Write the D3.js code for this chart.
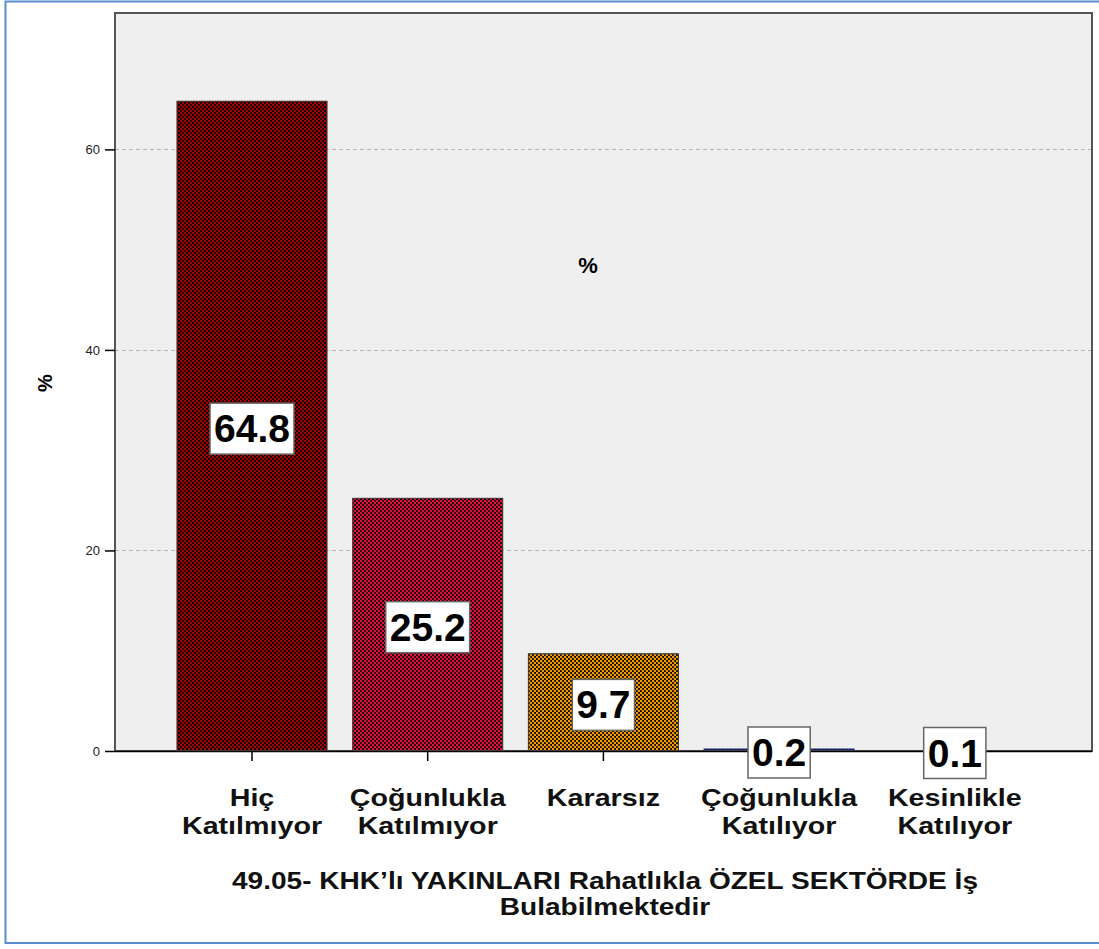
<!DOCTYPE html>
<html><head><meta charset="utf-8">
<script src="https://cdn.jsdelivr.net/npm/d3@7"></script>
<style>body{margin:0;background:#fff}svg{display:block}text{font-family:"Liberation Sans",Arial,sans-serif}</style>
</head><body>
<script>
const categories = [["Hiç","Katılmıyor"],["Çoğunlukla","Katılmıyor"],["Kararsız"],["Çoğunlukla","Katılıyor"],["Kesinlikle","Katılıyor"]];
const values = [64.8, 25.2, 9.7, 0.2, 0.1];
const labels = ["64.8","25.2","9.7","0.2","0.1"];
const colors = ["#a30000","#e5103f","#f59a00","#1f2a80","#2c2c2c"];
const yTicks = [0, 20, 40, 60];
const xTitle = ["49.05- KHK’lı YAKINLARI Rahatlıkla ÖZEL SEKTÖRDE İş","Bulabilmektedir"];

const W = 1099, H = 949;
const svg = d3.select("body").append("svg").attr("width", W).attr("height", H);
const defs = svg.append("defs");
colors.forEach((c, i) => {
  const p = defs.append("pattern").attr("id", "pat" + i).attr("patternUnits", "userSpaceOnUse")
    .attr("width", 4).attr("height", 4);
  p.append("rect").attr("width", 4).attr("height", 4).attr("fill", "#000");
  p.append("circle").attr("cx", 1).attr("cy", 1).attr("r", 1.35).attr("fill", c);
  p.append("circle").attr("cx", 3).attr("cy", 3).attr("r", 1.35).attr("fill", c);
});

// outer frame
svg.append("rect").attr("x", 5.5).attr("y", 1.5).attr("width", 1100).attr("height", 941.5)
  .attr("fill", "none").attr("stroke", "#5b8bd0").attr("stroke-width", 2);

const pl = 115, pt = 13, pr = 1092, pb = 751;
const y = d3.scaleLinear().domain([0, 73.6]).range([pb, pt]);
const x = d3.scaleBand().domain(d3.range(values.length)).range([164.15, 1042.65]).paddingInner(0.146).paddingOuter(0.073);

svg.append("rect").attr("x", pl).attr("y", pt).attr("width", pr - pl).attr("height", pb - pt)
  .attr("fill", "#efefef");

// grid
svg.append("g").selectAll("line").data(yTicks.filter(d => d > 0)).join("line")
  .attr("x1", pl).attr("x2", pr).attr("y1", d => Math.round(y(d)) + 0.5).attr("y2", d => Math.round(y(d)) + 0.5)
  .attr("stroke", "#b4b4b4").attr("stroke-dasharray", "4,3");

// bars
svg.append("g").selectAll("rect").data(values).join("rect")
  .attr("x", (d, i) => x(i)).attr("width", x.bandwidth())
  .attr("y", d => y(d)).attr("height", d => pb - y(d))
  .attr("fill", (d, i) => "url(#pat" + i + ")")
  .attr("stroke", (d, i) => i === 3 ? colors[i] : (i === 4 ? "none" : "#333")).attr("stroke-width", 1);

// plot border
svg.append("rect").attr("x", pl).attr("y", pt).attr("width", pr - pl).attr("height", pb - pt)
  .attr("fill", "none").attr("stroke", "#555").attr("stroke-width", 2);

// y axis
const ya = svg.append("g").attr("transform", `translate(${pl},0)`)
  .call(d3.axisLeft(y).tickValues(yTicks).tickSize(10).tickFormat(d3.format("d")));
ya.select(".domain").remove();
ya.selectAll(".tick line").attr("stroke", "#000").attr("stroke-width", 1.5);
ya.selectAll(".tick text").attr("font-size", 13).attr("fill", "#222").attr("font-family", "Liberation Sans, Arial").attr("dx", -2);

// x axis
const xa = svg.append("g").attr("transform", `translate(0,${pb})`)
  .call(d3.axisBottom(x).tickSize(10).tickFormat(""));
xa.select(".domain").remove();
xa.selectAll(".tick line").attr("stroke", "#000").attr("stroke-width", 1.5);
svg.append("line").attr("x1", pl).attr("x2", pr).attr("y1", pb + 0.5).attr("y2", pb + 0.5).attr("stroke", "#000").attr("stroke-width", 1.5);

const sx = 1.22;
// x tick labels
const cl = svg.append("g").selectAll("text").data(categories).join("text")
  .attr("transform", (d, i) => `translate(${x(i) + x.bandwidth() / 2},806) scale(${sx},1)`)
  .attr("text-anchor", "middle").attr("font-size", 23.5).attr("font-weight", "bold").attr("fill", "#111");
cl.selectAll("tspan").data(d => d).join("tspan")
  .attr("x", 0).attr("dy", (d, i) => i === 0 ? 0 : 28).text(d => d);

// value labels
const lg = svg.append("g").selectAll("g").data(values).join("g")
  .attr("transform", (d, i) => `translate(${x(i) + x.bandwidth() / 2},${(y(d) + pb) / 2 + 2})`);
lg.append("text").attr("text-anchor", "middle").attr("dy", "0.36em")
  .attr("font-size", 39).attr("font-weight", "bold").attr("fill", "#000")
  .text((d, i) => labels[i]);
lg.each(function () {
  const g = d3.select(this);
  const b = g.select("text").node().getBBox();
  g.insert("rect", "text").attr("x", -b.width / 2 - 4).attr("y", -25).attr("width", b.width + 8).attr("height", 51)
    .attr("fill", "#fff").attr("stroke", "#666").attr("stroke-width", 1.5);
});

// axis titles
svg.append("text").attr("transform", "translate(52,383) rotate(-90)").attr("text-anchor", "middle")
  .attr("font-size", 20).attr("font-weight", "bold").text("%");
svg.append("text").attr("x", 588).attr("y", 273).attr("text-anchor", "middle")
  .attr("font-size", 22).attr("font-weight", "bold").text("%");
const xt = svg.append("text").attr("transform", `translate(605,889) scale(${sx},1)`).attr("text-anchor", "middle")
  .attr("font-size", 23).attr("font-weight", "bold").attr("fill", "#111");
xt.selectAll("tspan").data(xTitle).join("tspan").attr("x", 0).attr("dy", (d, i) => i ? 26 : 0).text(d => d);
</script>
</body></html>
